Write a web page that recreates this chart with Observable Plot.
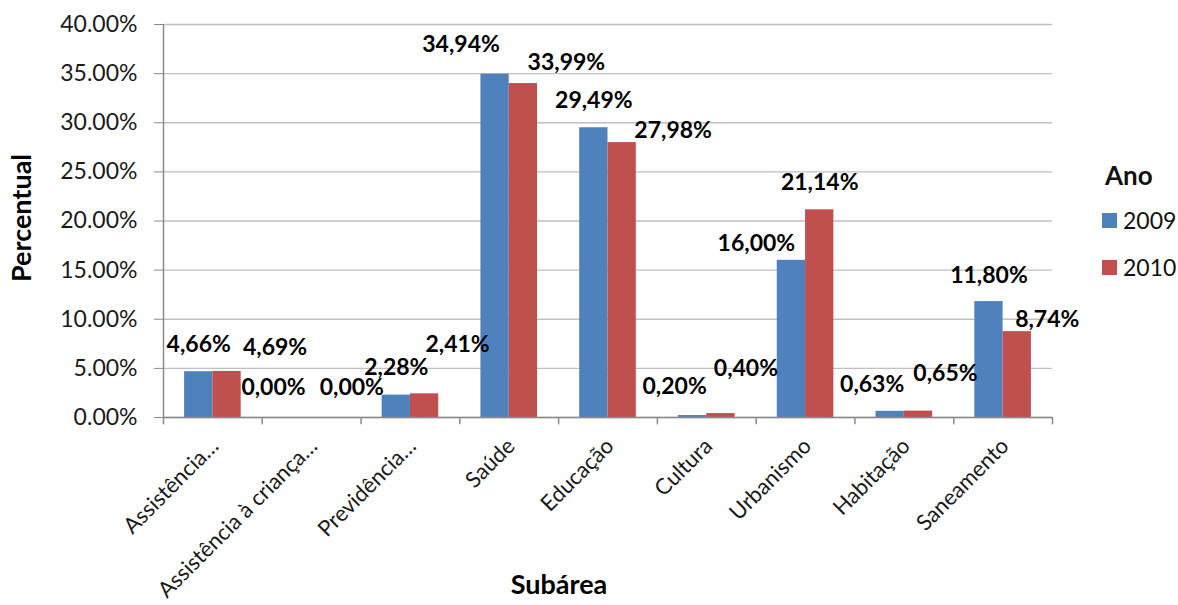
<!DOCTYPE html>
<html>
<head>
<meta charset="utf-8">
<script src="https://cdn.jsdelivr.net/npm/d3@7"></script>
<script src="https://cdn.jsdelivr.net/npm/@observablehq/plot@0.6"></script>
<style>
  body { margin: 0; background: #fff; }
  #chart { position: relative; width: 1178px; height: 605px; font-family: Lato, "Open Sans", sans-serif; }
  #chart svg { display: block; }
  .legend { position: absolute; left: 1102px; top: 159px; color: #111; }
  .legend .title { font-weight: bold; font-size: 26px; margin: 0 0 17px 3px; }
  .legend .item { display: flex; align-items: center; height: 24px; margin-bottom: 23px; font-size: 23px; }
  .legend .sw { width: 15px; height: 15px; margin-right: 6px; }
</style>
</head>
<body>
<div id="chart"></div>
<script>
// Subáreas (eixo X)
const subareas = [
  "Assistência…",
  "Assistência à criança…",
  "Previdência…",
  "Saúde",
  "Educação",
  "Cultura",
  "Urbanismo",
  "Habitação",
  "Saneamento"
];

// Séries por ano (percentual)
const years = ["2009", "2010"];
const share2009 = [4.66, 0.00, 2.28, 34.94, 29.49, 0.20, 16.00, 0.63, 11.80];
const share2010 = [4.69, 0.00, 2.41, 33.99, 27.98, 0.40, 21.14, 0.65, 8.74];
const seriesColors = ["#4F81BD", "#C0504D"];

// Marcas do eixo Y
const yTicks = [0, 5, 10, 15, 20, 25, 30, 35, 40];

// Deslocamento (px) de cada rótulo de valor em relação ao topo da barra
const nudge2009 = [[0, -27], [-24, -30], [0, -27], [-34, -30], [0, -27], [-18, -29], [-35, -17], [-18, -27], [0, -26]];
const nudge2010 = [[48, -24], [26, -30], [33, -49], [43, -21], [51, -12], [25, -45], [0, -27], [27, -37], [30, -12]];

const W = 1178, H = 605;
const mL = 163, mR = 126, mT = 24, mB = 188;
const step = (W - mL - mR) / subareas.length;
const barW = step * 0.2865;
const FONT = "Lato, 'Open Sans', sans-serif";

const seriesValues = [share2009, share2010];
const nudges = [nudge2009, nudge2010];
const rows = years.flatMap((year, s) =>
  subareas.map((subarea, i) => ({subarea, year, value: seriesValues[s][i], s, i}))
);

const fmtLabel = v => v.toFixed(2).replace(".", ",") + "%";
const fmtTick = v => v.toFixed(2) + "%";

// Um rótulo por barra, cada um com o seu deslocamento
const valueLabels = rows.map(d => {
  const half = d.s === 0 ? -barW / 2 : barW / 2;
  const [ndx, ndy] = nudges[d.s][d.i];
  return Plot.text([d], {
    x: "subarea",
    y: "value",
    text: r => fmtLabel(r.value),
    dx: half + ndx,
    dy: ndy,
    fontWeight: "bold",
    fontSize: 23,
    fill: "#000",
    textAnchor: "middle",
    lineAnchor: "middle"
  });
});

const chart = Plot.plot({
  width: W,
  height: H,
  marginLeft: mL,
  marginRight: mR,
  marginTop: mT,
  marginBottom: mB,
  style: {fontFamily: FONT, fontSize: "22px", background: "#fff", color: "#111"},
  x: {type: "band", domain: subareas, padding: 0, round: false, axis: null},
  y: {domain: [0, 40], axis: null},
  marks: [
    Plot.gridY(yTicks, {stroke: "#c0c0c0", strokeOpacity: 1, strokeWidth: 1.4}),
    Plot.barY(rows.filter(d => d.s === 0), {
      x: "subarea", y: "value", fill: seriesColors[0],
      insetLeft: step / 2 - barW, insetRight: step / 2
    }),
    Plot.barY(rows.filter(d => d.s === 1), {
      x: "subarea", y: "value", fill: seriesColors[1],
      insetLeft: step / 2, insetRight: step / 2 - barW
    }),
    // eixo X (linha de base) e marcas entre categorias
    Plot.ruleY([0], {stroke: "#8a8a8a", strokeWidth: 1.5}),
    Plot.ruleX(subareas, {x: d => d, dx: -step / 2, y1: -0.75, y2: 0, stroke: "#8a8a8a", strokeWidth: 1.5}),
    Plot.ruleX([subareas[subareas.length - 1]], {x: d => d, dx: step / 2, y1: -0.75, y2: 0, stroke: "#8a8a8a", strokeWidth: 1.5}),
    // linha do eixo Y
    Plot.ruleX([subareas[0]], {x: d => d, dx: -step / 2, y1: 0, y2: 40, stroke: "#8a8a8a", strokeWidth: 1.5}),
    Plot.axisY({
      ticks: yTicks, tickFormat: fmtTick, tickSize: 9, tickPadding: 17,
      stroke: "#8a8a8a", fill: "#1a1a1a", fontSize: 23, label: null
    }),
    Plot.axisX({
      tickRotate: -45, tickSize: 0, tickPadding: 25, dx: 2,
      fill: "#1a1a1a", fontSize: 22, label: null
    }),
    ...valueLabels,
    // títulos dos eixos
    Plot.text(["Percentual"], {
      frameAnchor: "left", dx: -141, dy: -3, rotate: -90,
      textAnchor: "middle", lineAnchor: "middle",
      fontWeight: "bold", fontSize: 27, fill: "#000"
    }),
    Plot.text(["Subárea"], {
      frameAnchor: "bottom", dx: -49, dy: 168,
      textAnchor: "middle", lineAnchor: "middle",
      fontWeight: "bold", fontSize: 27, fill: "#000"
    })
  ]
});

const root = document.getElementById("chart");
root.appendChild(chart);

// Legenda
const legend = document.createElement("div");
legend.className = "legend";
const title = document.createElement("div");
title.className = "title";
title.textContent = "Ano";
legend.appendChild(title);
years.forEach((y, k) => {
  const item = document.createElement("div");
  item.className = "item";
  const sw = document.createElement("span");
  sw.className = "sw";
  sw.style.background = seriesColors[k];
  const lab = document.createElement("span");
  lab.textContent = y;
  item.appendChild(sw);
  item.appendChild(lab);
  legend.appendChild(item);
});
root.appendChild(legend);
</script>
</body>
</html>
